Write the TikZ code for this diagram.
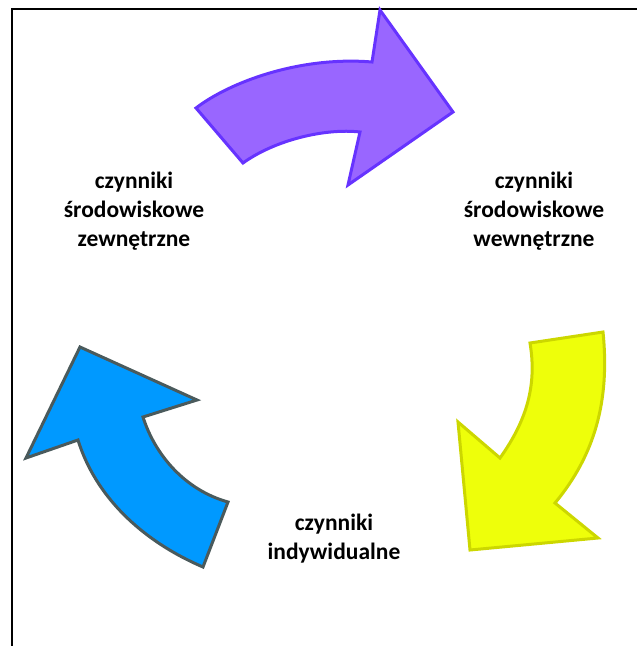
\documentclass[tikz,border=0pt]{standalone}
\usepackage{fontspec}
\setmainfont{Carlito}
\usepackage{tikz}
\definecolor{violetfill}{HTML}{9966FF}
\definecolor{violetline}{HTML}{6633FF}
\definecolor{yellowfill}{HTML}{EEFF0A}
\definecolor{yellowline}{HTML}{CCD700}
\definecolor{bluefill}{HTML}{0099FF}
\definecolor{blueline}{HTML}{4A5A5C}

\begin{document}
\begin{tikzpicture}[x=1pt,y=-1pt,
	arrowshape/.style={line width=3pt,line join=miter},
	label/.style={align=center,font=\fontsize{23.5}{29}\selectfont\bfseries}]
	\useasboundingbox (0,0) rectangle (637,646);
	\draw[line width=2.5pt] (637,9) -- (12,9) -- (12,646);
	\filldraw[arrowshape,fill=violetfill,draw=violetline] (196,108) .. controls (230,82) and (300,56) .. (372,62) -- (380,10) -- (453,112) -- (348,185) -- (360,132) .. controls (325,128) and (275,140) .. (243,163) -- cycle;
	\filldraw[arrowshape,fill=yellowfill,draw=yellowline] (530,343) -- (603,332) .. controls (610,400) and (595,455) .. (555,503) -- (598,538) -- (470,550) -- (458,422) -- (500,458) .. controls (527,420) and (537,385) .. (530,343) -- cycle;
	\filldraw[arrowshape,fill=bluefill,draw=blueline] (228,502) -- (203,567) .. controls (140,540) and (95,495) .. (78,440) -- (26,458) -- (80,347) -- (197,400) -- (143,417) .. controls (155,455) and (185,490) .. (228,502) -- cycle;
	\node[label] (zewn) at (134,211) {czynniki\\środowiskowe\\zewnętrzne};
	\node[label] (wewn) at (534,211) {czynniki\\środowiskowe\\wewnętrzne};
	\node[label] (indyw) at (334,539) {czynniki\\indywidualne};
\end{tikzpicture}
\end{document}
